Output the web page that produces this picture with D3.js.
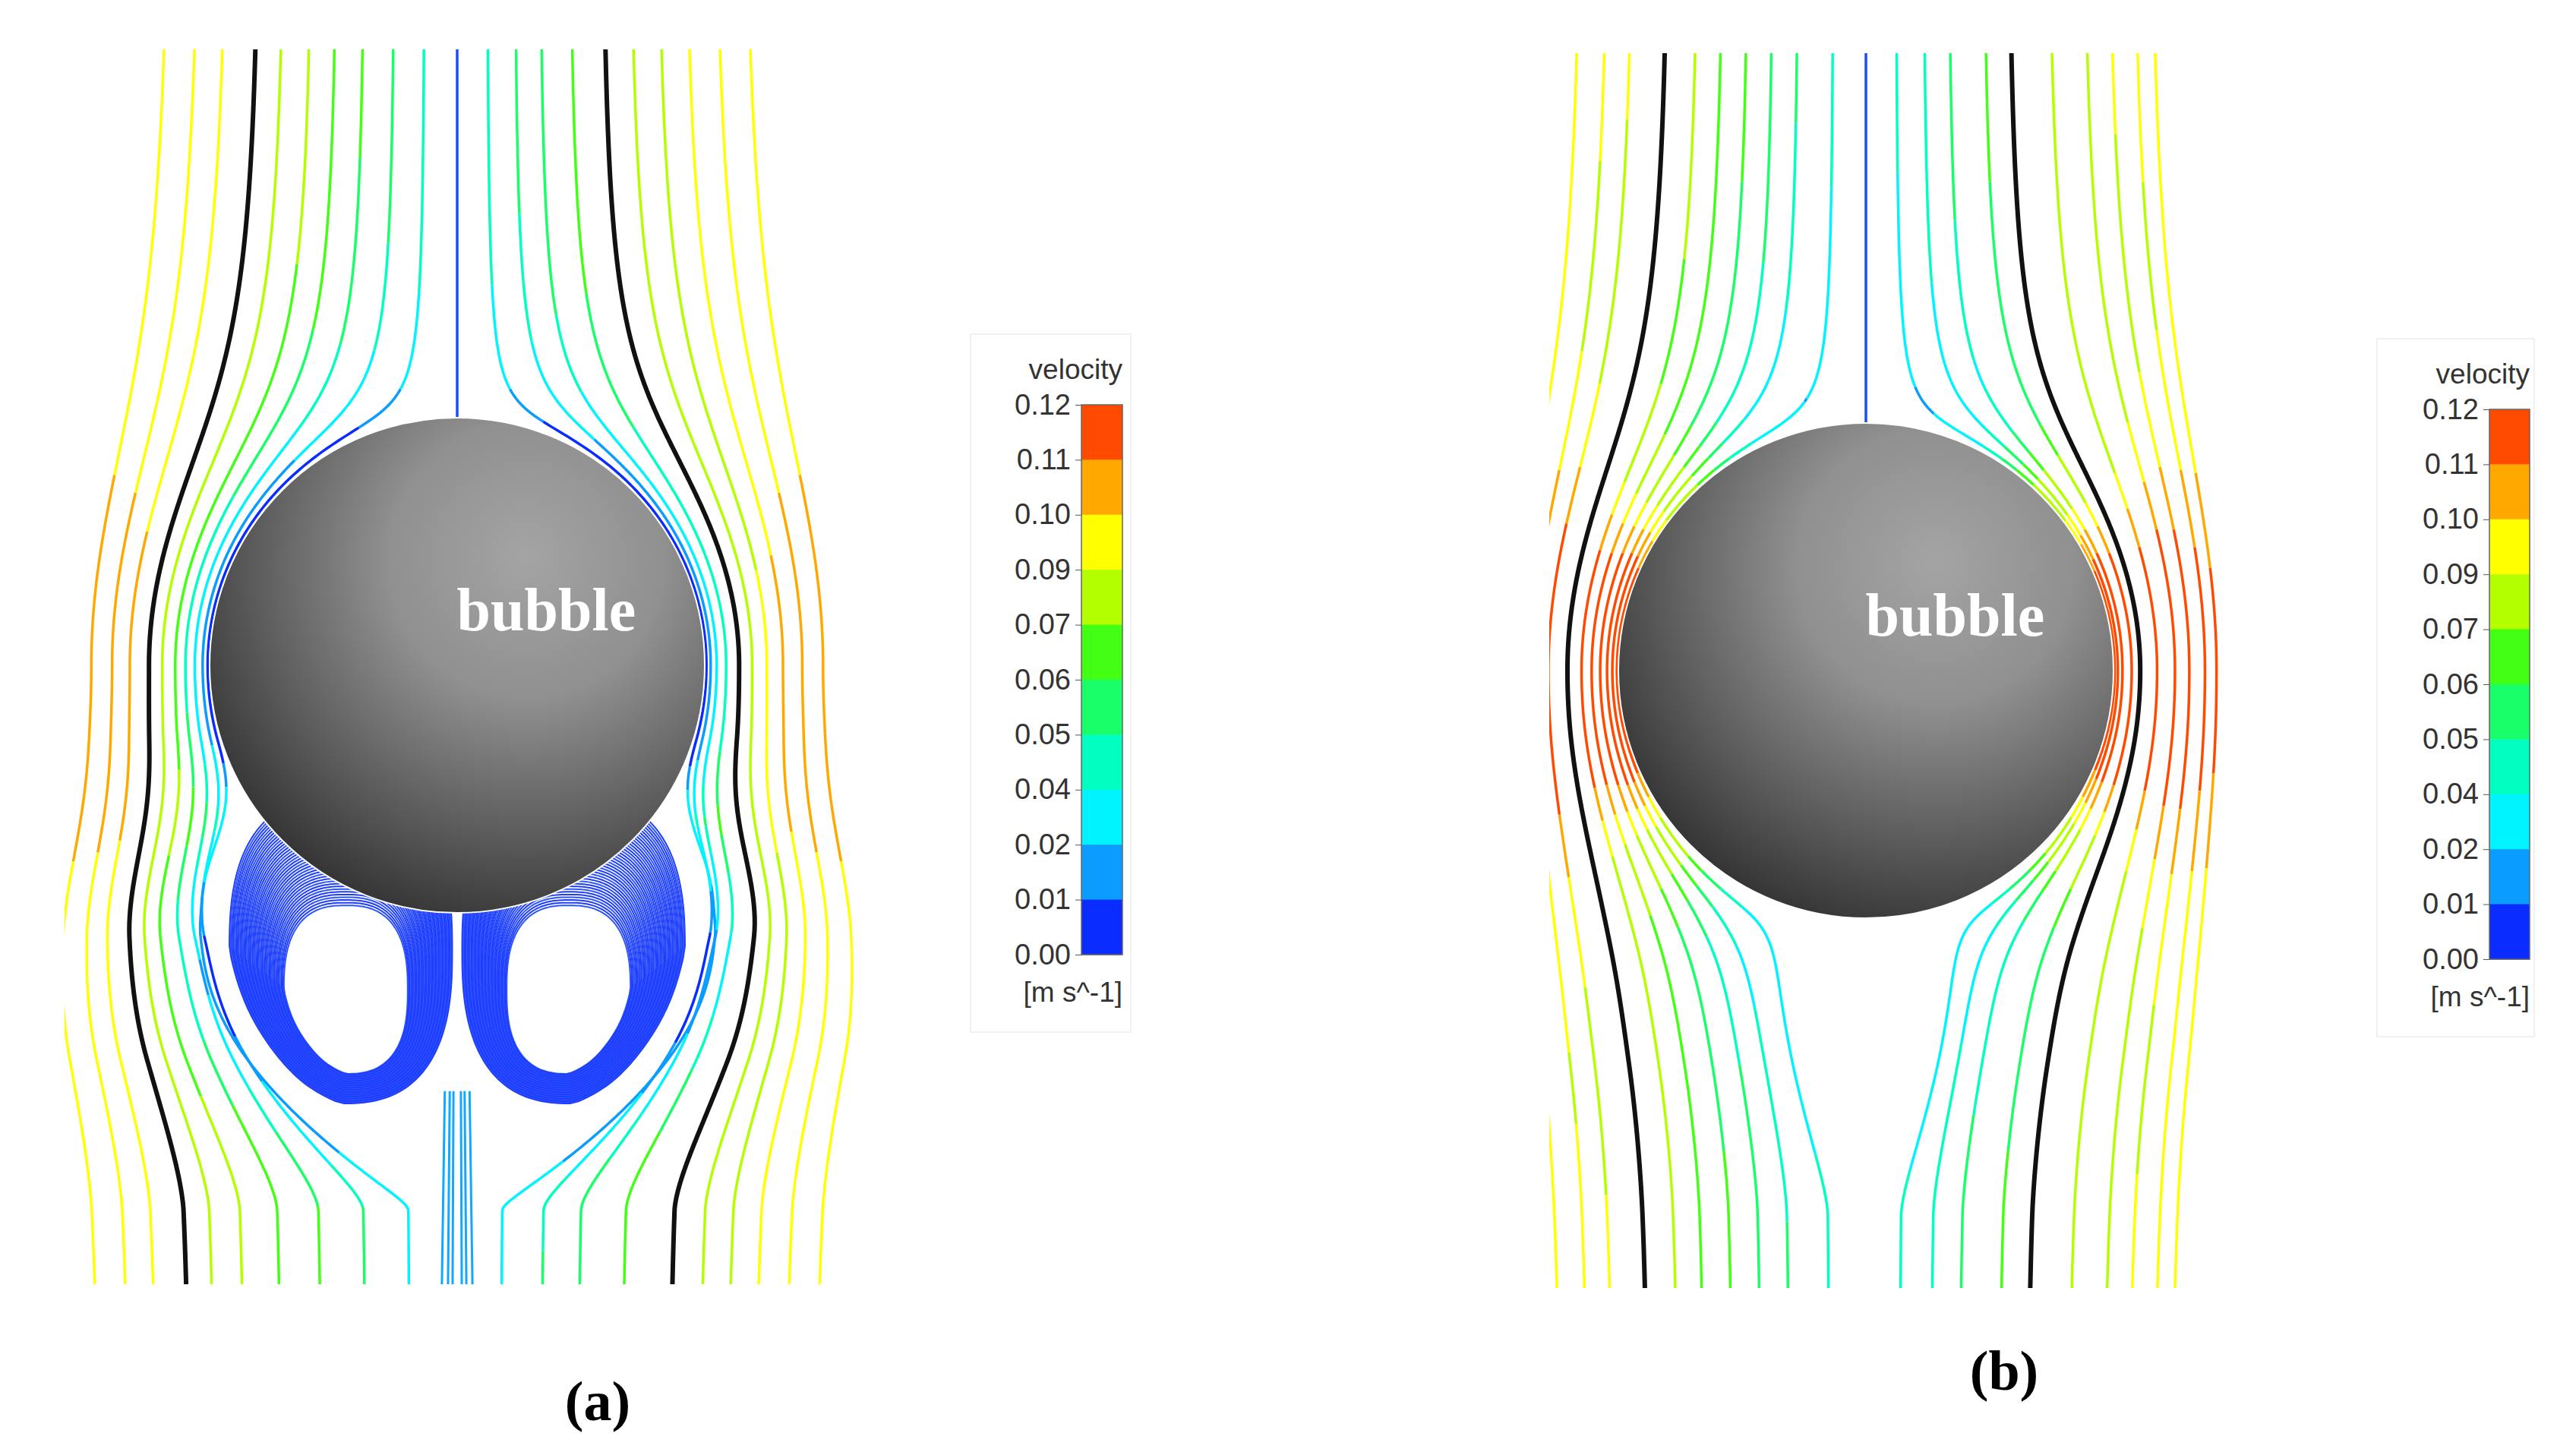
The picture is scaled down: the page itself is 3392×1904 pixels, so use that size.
<!DOCTYPE html>
<html><head><meta charset="utf-8">
<script src="https://cdn.jsdelivr.net/npm/d3@7"></script>
<style>body{margin:0;background:#fff}svg{display:block}</style>
</head><body>
<script>
// ---- data (units: bubble radius = 1) ----
const legendTicks = ["0.12","0.11","0.10","0.09","0.07","0.06","0.05","0.04","0.02","0.01","0.00"];
const bandThresholds = [0.01,0.02,0.04,0.05,0.06,0.07,0.09,0.10,0.11];
const bandColors = ['#0a2cff','#0b9cff','#00f4ff','#00ffc0','#19ff6a','#43ff14','#b3ff00','#ffff00','#ffa800','#ff4a00'];
// streamline far-field offsets (left side, right side); black = separating line
const aLeft  = [1.15,1.03,0.92,0.79,0.69,0.58,0.48,0.37,0.25,0.13];
const aRight = [0.12,0.23,0.33,0.45,0.58,0.69,0.80,0.91,1.03,1.15];
const aBlackL = 0.79, aBlackR = 0.58;
const bLeft  = [1.14,1.03,0.93,0.79,0.67,0.57,0.47,0.37,0.27,0.13];
const bRight = [0.12,0.23,0.33,0.47,0.57,0.73,0.87,0.97,1.07,1.14];
const bBlackL = 0.79, bBlackR = 0.57;
// recirculation zone of panel (a), left vortex: [cx, cy, rx, ry]
const vortexOuter = [-0.47,1.15,0.45,0.62];
const vortexHole  = [-0.45,1.31,0.25,0.34];
const panelLabels = ["(a)","(b)"];

const W=3392,H=1904;
const svg=d3.select("body").append("svg").attr("width",W).attr("height",H);
const defs=svg.append("defs");
const grad=defs.append("radialGradient").attr("id","bub").attr("cx","0.64").attr("cy","0.3").attr("r","0.8").attr("fx","0.64").attr("fy","0.28");
[[0,'#a4a4a4'],[0.35,'#909090'],[0.7,'#5a5a5a'],[1,'#2a2a2a']].forEach(s=>grad.append("stop").attr("offset",s[0]).attr("stop-color",s[1]));

const color=d3.scaleThreshold().domain(bandThresholds).range(bandColors);

function solveRho(d,z){
  let lo=Math.sqrt(Math.max(0,1-z*z))+1e-5, hi=d+3;
  const f=r=>r*r*(1-1/Math.pow(r*r+z*z,1.5))-d*d;
  for(let i=0;i<45;i++){const m=(lo+hi)/2; if(f(m)>0)hi=m; else lo=m;}
  return (lo+hi)/2;
}
function ratio(rho,z){const r=Math.sqrt(rho*rho+z*z),c=z/r,s=rho/r,q=1/Math.pow(r,3);
  return Math.hypot(c*(1-q),s*(1+q/2));}
function smooth(t){t=Math.max(0,Math.min(1,t));return t*t*(3-2*t);}

function panel(cfg){
  const g=svg.append("g");
  const x=d3.scaleLinear().domain([-1,1]).range([cfg.cx-cfg.R,cfg.cx+cfg.R]);
  const y=d3.scaleLinear().domain([-1,1]).range([cfg.cy-cfg.R,cfg.cy+cfg.R]);
  const clip=defs.append("clipPath").attr("id","clip"+cfg.id);
  clip.append("rect").attr("x",cfg.x0).attr("y",cfg.y0).attr("width",cfg.x1-cfg.x0).attr("height",cfg.y1-cfg.y0);
  const gl=g.append("g").attr("clip-path",`url(#clip${cfg.id})`);
  const line=d3.line().x(p=>x(p[0])).y(p=>y(p[1]));
  const zs=d3.range(y.invert(cfg.y0)-0.02,y.invert(cfg.y1)+0.02,0.012);
  const Ud=d=>cfg.U*Math.min(1,cfg.p0+(1-cfg.p0)*d/0.92);
  const B=z=>(z>0&&z<2.2)?cfg.wakeB*Math.pow(Math.sin(Math.PI*z/2.2),0.8):0;
  function stream(d,side,black){
    const pts=zs.map(z=>{
      let rho=solveRho(d,z);
      const w=Math.pow(Math.min(1,d/1.15),2);
      rho=rho+(cfg.k-1)*(rho-d)*w;
      const b=B(z), extra=b*b*smooth((z-0.3)/0.8);
      rho=rho+(Math.sqrt(rho*rho+extra)-rho)*Math.exp(-Math.max(0,d-0.1)/0.6);
      rho+=cfg.shift*Math.min(1,d/0.6)*smooth(z/1.6);
      const rt=Math.sqrt(rho*rho+z*z);
      let sp;
      if(cfg.id==='a'){
        const gap=Math.max(0, z<=0? rt-1 : Math.min(rt-1, rho-b));
        sp=Ud(d)*Math.pow(ratio(rho,z),0.6)*(1-Math.exp(-gap/0.12));
      } else sp=Ud(d)*ratio(rho,z)+0.06*Math.exp(-(rt-1)/0.15)*Math.pow(rho/rt,2);
      return {p:[side*rho,z],v:Math.max(0,sp)};
    });
    if(black){gl.append("path").attr("d",line(pts.map(o=>o.p))).attr("fill","none").attr("stroke","#111").attr("stroke-width",6);return;}
    let cur=[pts[0]],col=color(pts[0].v);
    for(let i=1;i<pts.length;i++){
      cur.push(pts[i]); const c=color(pts[i].v);
      if(c!==col||i===pts.length-1){
        gl.append("path").attr("d",line(cur.map(o=>o.p))).attr("fill","none").attr("stroke",col).attr("stroke-width",3.5);
        cur=[pts[i]];col=c;
      }
    }
  }
  cfg.left.forEach(d=>stream(d,-1,d===cfg.blackL));
  cfg.right.forEach(d=>stream(d,1,d===cfg.blackR));
  gl.append("path").attr("d",line([[0,y.invert(cfg.y0)],[0,-1]])).attr("stroke","#1a4cff").attr("stroke-width",3.5);
  if(cfg.vortex){
    const loop=d3.line().x(p=>x(p[0])).y(p=>y(p[1])).curve(d3.curveLinearClosed);
    const n=2.6;
    [-1,1].forEach(side=>{
      d3.range(0,1.001,1/40).forEach((t,i)=>{
        const e=vortexHole.map((h,j)=>h+t*(vortexOuter[j]-h));
        const pts=d3.range(0,2*Math.PI,0.03).map(th=>{
          const c=Math.cos(th),s=Math.sin(th);
          let px=e[2]*Math.sign(c)*Math.pow(Math.abs(c),2/n), py=e[3]*Math.sign(s)*Math.pow(Math.abs(s),2/n);
          if(py>0&&px<0) { const k=1-0.3*(py/e[3])*(-px/e[2]); px*=k; py*=k; }
          return [side*(e[0]+px),e[1]+py];
        });
        gl.append("path").attr("d",loop(pts)).attr("fill","none").attr("stroke",i%3?"#1f3cff":"#2a55ff").attr("stroke-width",2);
      });
    });
    [-0.05,-0.03,-0.015,0.015,0.03,0.05].forEach(o=>{
      const pts=d3.range(1.72,y.invert(cfg.y1)+0.02,0.02).map(z=>[o*(1+0.3*(z-1.72)),z]);
      gl.append("path").attr("d",line(pts)).attr("fill","none").attr("stroke","#12a8ff").attr("stroke-width",3);
    });
  }
  g.append("circle").attr("cx",x(0)).attr("cy",y(0)).attr("r",cfg.R).attr("fill","url(#bub)").attr("stroke","#fff").attr("stroke-width",2);
  g.append("text").attr("x",x(0.36)).attr("y",y(-0.14)).attr("text-anchor","middle")
    .attr("font-family","Liberation Serif, Times New Roman, serif").attr("font-weight","bold").attr("font-size",80).attr("fill","#fff").text("bubble");
  const L=cfg.leg;
  g.append("rect").attr("x",L.bx0).attr("y",L.by0).attr("width",L.bx1-L.bx0).attr("height",L.by1-L.by0).attr("fill","#fff").attr("stroke","#f0f0f0").attr("stroke-width",2);
  const ly=d3.scalePoint().domain(legendTicks).range([L.y0,L.y1]);
  const bh=(L.y1-L.y0)/bandColors.length;
  bandColors.slice().reverse().forEach((c,i)=>g.append("rect").attr("x",L.x0).attr("y",L.y0+i*bh).attr("width",L.x1-L.x0).attr("height",bh+0.5).attr("fill",c));
  g.append("rect").attr("x",L.x0).attr("y",L.y0).attr("width",L.x1-L.x0).attr("height",L.y1-L.y0).attr("fill","none").attr("stroke","#666").attr("stroke-width",1.5);
  const ax=g.append("g").attr("transform",`translate(${L.x0},0)`).call(d3.axisLeft(ly).tickSize(8).tickPadding(6));
  ax.select(".domain").remove();
  ax.selectAll("line").attr("stroke","#555");
  ax.selectAll("text").attr("font-family","Liberation Sans, Arial, sans-serif").attr("font-size",38).attr("fill","#333");
  g.append("text").attr("x",L.x1).attr("y",L.y0-34).attr("text-anchor","end").attr("font-family","Liberation Sans, Arial, sans-serif").attr("font-size",37).attr("fill","#333").text("velocity");
  g.append("text").attr("x",L.x1).attr("y",L.y1+62).attr("text-anchor","end").attr("font-family","Liberation Sans, Arial, sans-serif").attr("font-size",37).attr("fill","#333").text("[m s^-1]");
  g.append("text").attr("x",cfg.lab[0]).attr("y",cfg.lab[1]).attr("text-anchor","middle").attr("font-family","Liberation Serif, Times New Roman, serif").attr("font-weight","bold").attr("font-size",74).attr("fill","#000").text(cfg.label);
}

panel({id:'a',cx:602,cy:876,R:326,x0:85,x1:1135,y0:65,y1:1691,left:aLeft,right:aRight,blackL:aBlackL,blackR:aBlackR,k:1.2,wakeB:1.0,shift:0.28,U:0.098,p0:0.42,vortex:true,
  leg:{x0:1424,x1:1478,y0:533,y1:1257,bx0:1278,bx1:1489,by0:440,by1:1359},lab:[787,1870],label:panelLabels[0]});
panel({id:'b',cx:2457,cy:883,R:326,x0:2040,x1:2961,y0:70,y1:1696,left:bLeft,right:bRight,blackL:bBlackL,blackR:bBlackR,k:1.0,wakeB:0.3,shift:0.08,U:0.095,p0:0.4,vortex:false,
  leg:{x0:3278,x1:3331,y0:539,y1:1263,bx0:3130,bx1:3337,by0:446,by1:1365},lab:[2639,1830],label:panelLabels[1]});
</script>
</body></html>
